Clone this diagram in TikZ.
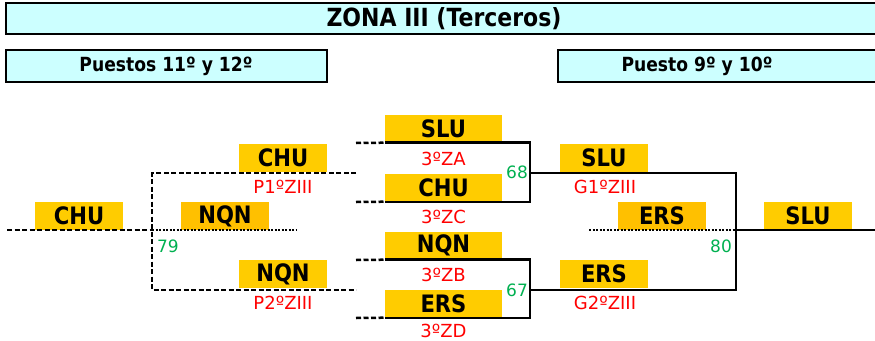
\documentclass[tikz,border=0pt]{standalone}
\usepackage{fontspec}
\setmainfont[FakeStretch=0.88]{DejaVu Sans}
\newfontfamily\seedfont{DejaVu Sans}
\definecolor{gold}{HTML}{FFCC00}
\definecolor{goldd}{HTML}{FFC000}
\definecolor{cyanbox}{HTML}{CCFFFF}
\definecolor{seedred}{HTML}{FF0000}
\definecolor{gamegreen}{HTML}{00B050}
\tikzset{
  team/.style={fill=gold, minimum width=88pt, minimum height=28pt, inner sep=0pt,
    font=\fontsize{24}{24}\selectfont\bfseries},
  wideteam/.style={team, minimum width=117pt},
  seed/.style={text=seedred, inner sep=0pt, anchor=base, font=\seedfont\fontsize{18}{18}\selectfont},
  game/.style={text=gamegreen, inner sep=0pt, font=\seedfont\fontsize{17}{17}\selectfont},
  head/.style={draw, line width=2.5pt, fill=cyanbox},
  wire/.style={line width=2.5pt},
  dashwire/.style={wire, dash pattern=on 5pt off 2.5pt},
  dotwire/.style={wire, dash pattern=on 2pt off 1.5pt},
}
\begin{document}
\begin{tikzpicture}[x=1pt,y=-1pt]
  \useasboundingbox (0,0) rectangle (875,340);
  \draw[head] (6,3) rectangle (882,34);
  \node[font=\fontsize{25}{25}\selectfont\bfseries] (title) at (444,19) {ZONA III (Terceros)};
  \draw[head] (6,50) rectangle (327,82);
  \node[font=\fontsize{19.5}{19.5}\selectfont\bfseries] (low) at (166,66) {Puestos 11º y 12º};
  \draw[head] (558,50) rectangle (882,82);
  \node[font=\fontsize{19.5}{19.5}\selectfont\bfseries] (high) at (697,66) {Puesto 9º y 10º};

  \node[team] (chuL) at (79,216) {CHU};
  \node[team, fill=goldd] (nqnW) at (225,216) {NQN};
  \node[team] (chuP) at (283,158) {CHU};
  \node[seed] (p1) at (283,193) {P1ºZIII};
  \node[team] (nqnP) at (283,274) {NQN};
  \node[seed] (p2) at (283,309) {P2ºZIII};

  \node[wideteam] (sluA) at (443.5,128.5) {SLU};
  \node[seed] (za) at (443.5,165) {3ºZA};
  \node[wideteam] (chuC) at (443.5,187.5) {CHU};
  \node[seed] (zc) at (443.5,223.5) {3ºZC};
  \node[wideteam] (nqnB) at (443.5,245.5) {NQN};
  \node[seed] (zb) at (443.5,281.5) {3ºZB};
  \node[wideteam] (ersD) at (443.5,303.5) {ERS};
  \node[seed] (zd) at (443.5,337) {3ºZD};

  \node[team] (sluG) at (604,158) {SLU};
  \node[seed] (g1) at (605,193) {G1ºZIII};
  \node[team] (ersG) at (604,274) {ERS};
  \node[seed] (g2) at (605,309) {G2ºZIII};
  \node[team, fill=goldd] (ersW) at (662,216) {ERS};
  \node[team] (sluF) at (808,216) {SLU};

  \coordinate (b79) at (152,230);
  \coordinate (b68) at (530,173);
  \coordinate (b67) at (530,290);
  \coordinate (b80) at (736,230);

  \draw[dashwire] (7,230) -- (b79);
  \draw[dashwire] (356,173) -| (b79) |- (356,290);
  \draw[dotwire] (b79) -- (297,230);
  \draw[dashwire] (356,143) -- (sluA.south west);
  \draw[dashwire] (356,202) -- (chuC.south west);
  \draw[dashwire] (356,260) -- (nqnB.south west);
  \draw[dashwire] (356,318) -- (ersD.south west);
  \draw[wire] (sluA.south west) -| (b68) |- (385,202);
  \draw[wire] (nqnB.south west) -| (b67) |- (385,318);
  \draw[wire] (b68) -| (b80) |- (b67);
  \draw[dotwire] (589,230) -- (b80);
  \draw[wire] (b80) -- (875,230);

  \node[game] (g79) at (168,246) {79};
  \node[game] (g68) at (517,172) {68};
  \node[game] (g67) at (517,290) {67};
  \node[game] (g80) at (721,246) {80};
\end{tikzpicture}
\end{document}
